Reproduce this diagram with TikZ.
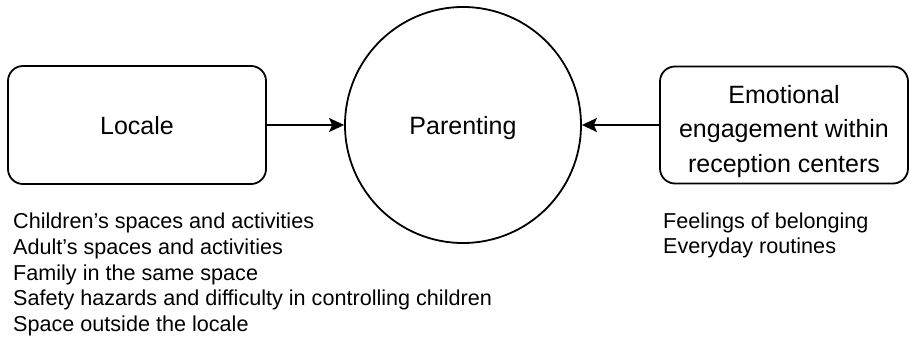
\documentclass[tikz,border=0pt]{standalone}
\usepackage{fontspec}
\setmainfont{Liberation Sans}
\usetikzlibrary{arrows.meta}
\begin{document}
\begin{tikzpicture}[x=1pt,y=-1pt,
  box/.style={draw=black, line width=1.8pt, rounded corners=15pt, inner sep=0pt,
    font=\fontsize{25}{34.5}\selectfont},
  ring/.style={draw=black, line width=1.8pt, circle, inner sep=0pt,
    font=\fontsize{25}{30}\selectfont, text height=18pt, text depth=0pt},
  listtext/.style={anchor=north west, inner sep=0pt, align=left,
    font=\fontsize{21.6}{25.6}\selectfont},
  arr/.style={line width=1.8pt, -{Stealth[length=15pt, width=14pt, inset=3pt]}}]
\useasboundingbox (0,0) rectangle (910,337);
\node[box, minimum width=258pt, minimum height=118pt, text height=18pt, text depth=0pt] (locale) at (137,125) {Locale};
\node[ring, minimum size=236pt] (parent) at (463,125) {Parenting};
\node[box, minimum width=248pt, minimum height=117pt, align=center, text height=94pt, text depth=0pt] (emo) at (784,125) {Emotional\\engagement within\\reception centers};
\draw[arr] (locale.east) -- (parent.west);
\draw[arr] (emo.west) -- (parent.east);
\node[listtext] (llist) at (13,213) {Children’s spaces and activities\\Adult’s spaces and activities\\Family in the same space\\Safety hazards and difficulty in controlling children\\Space outside the locale};
\node[listtext] (rlist) at (663,212.5) {Feelings of belonging\\Everyday routines};
\end{tikzpicture}
\end{document}
